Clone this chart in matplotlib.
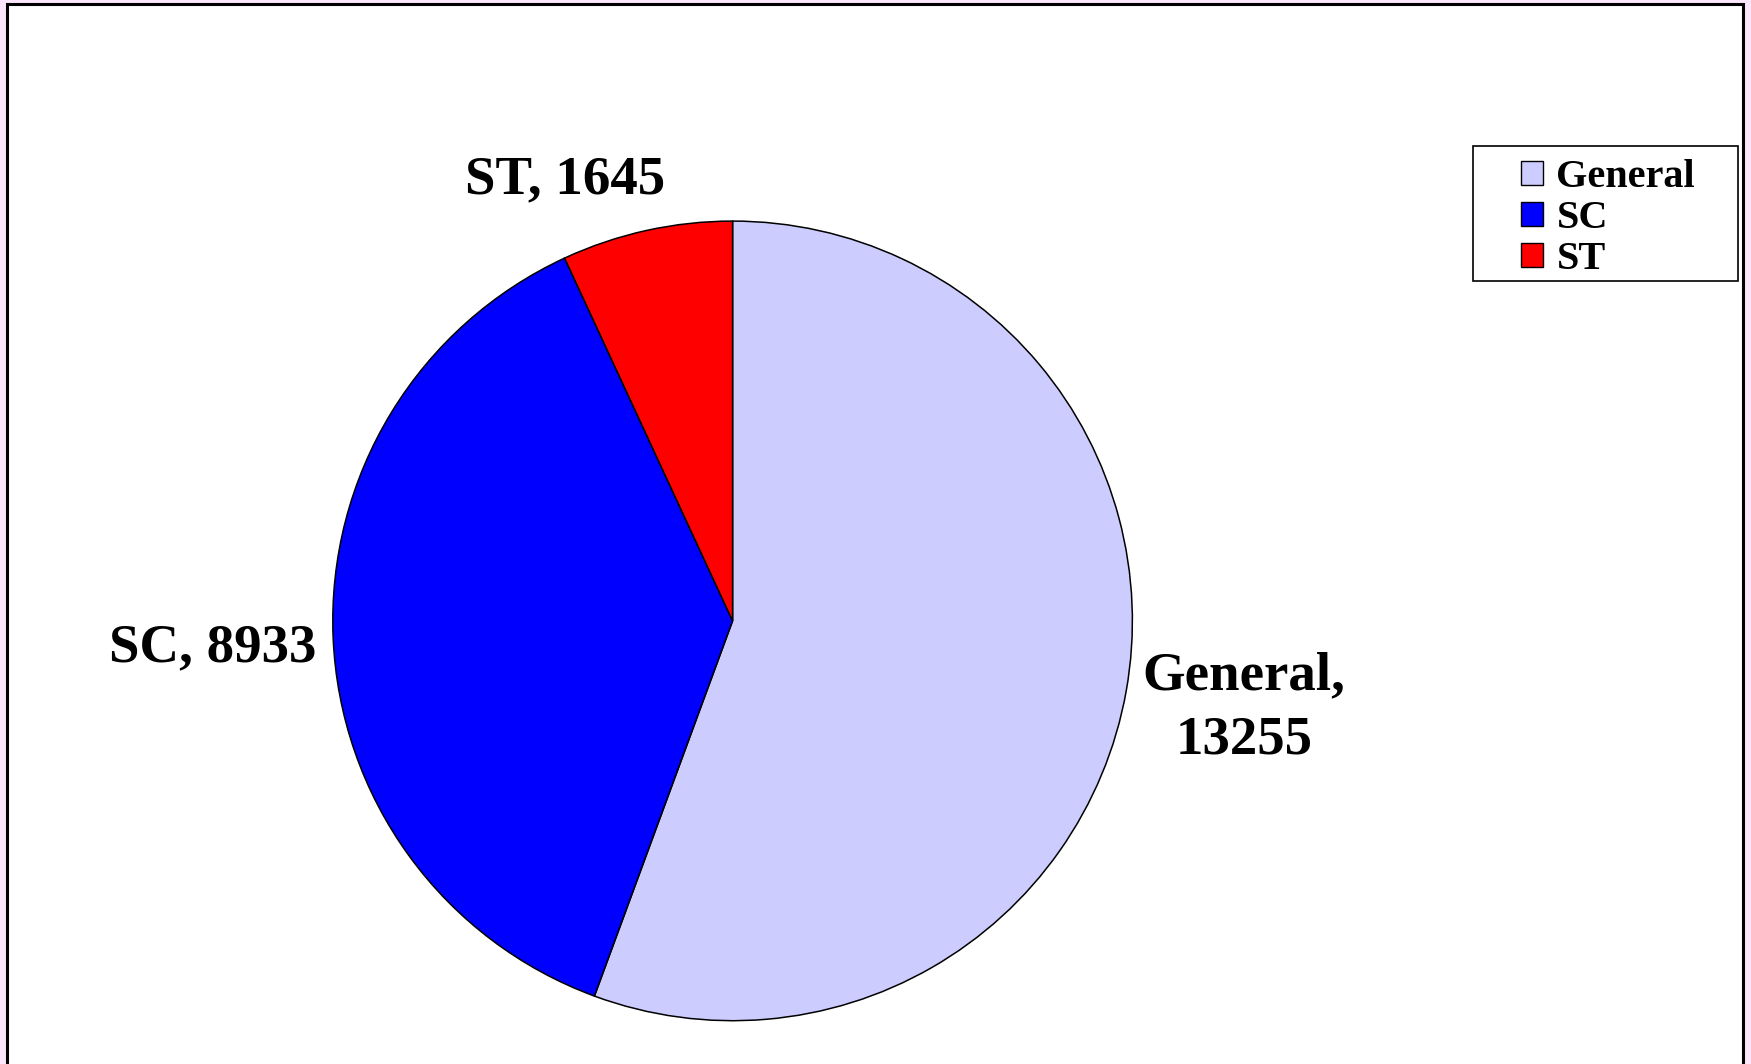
import matplotlib.pyplot as plt
from matplotlib.patches import Rectangle, Patch

categories = ["General", "SC", "ST"]
counts = [13255, 8933, 1645]
colors = ["#CCCCFF", "#0000FF", "#FF0000"]

plt.rcParams['font.family'] = ['Liberation Serif', 'DejaVu Serif']
plt.rcParams['font.weight'] = 'bold'

W, H = 1751, 1064
fig = plt.figure(figsize=(W / 100, H / 100), dpi=100, facecolor="#FBE6FB")

# white chart area with black frame (bottom edge is cut off in the original)
frame = Rectangle((7 / W, -0.02), (1743 - 7) / W, 1.02 - 4 / H,
                  transform=fig.transFigure, facecolor="white",
                  edgecolor="black", linewidth=2.2, zorder=-5)
fig.patches.append(frame)

ax = fig.add_axes([0, 0, 1, 1], zorder=1)
ax.patch.set_alpha(0)
ax.pie(counts, colors=colors, startangle=90, counterclock=False,
       wedgeprops=dict(edgecolor="black", linewidth=1.1))
ax.set_xlim(-1.8324, 2.5473)
ax.set_ylim(-1.1083, 1.553)
ax.set_aspect('auto')
ax.axis('off')

label_pos = {"General": (1.279, -0.220), "SC": (-1.300, -0.069), "ST": (-0.419, 1.102)}
for cat, val in zip(categories, counts):
    txt = f"{cat},\n{val}" if cat == "General" else f"{cat}, {val}"
    x, y = label_pos[cat]
    ax.text(x, y, txt, ha="center", va="center", fontsize=39.5,
            fontweight="bold", linespacing=1.37)

# legend box drawn separately so the padding matches the original
box = Rectangle((1473 / W, 1 - 281 / H), (1738 - 1473) / W, (281 - 146) / H,
                transform=fig.transFigure, facecolor="white",
                edgecolor="black", linewidth=1.2, zorder=2)
fig.patches.append(box)

handles = [Patch(facecolor=c, edgecolor="black", linewidth=1.0) for c in colors]
leg = fig.legend(handles, categories, loc="upper left",
                 bbox_to_anchor=(1521 / W, 1 - 159 / H),
                 fontsize=29, frameon=False,
                 handlelength=0.55, handleheight=0.55, handletextpad=0.33,
                 labelspacing=0.1, borderpad=0, borderaxespad=0)
leg.set_zorder(3)
for t in leg.get_texts():
    t.set_fontweight("bold")

fig.savefig("out.png", dpi=100, facecolor=fig.get_facecolor())
